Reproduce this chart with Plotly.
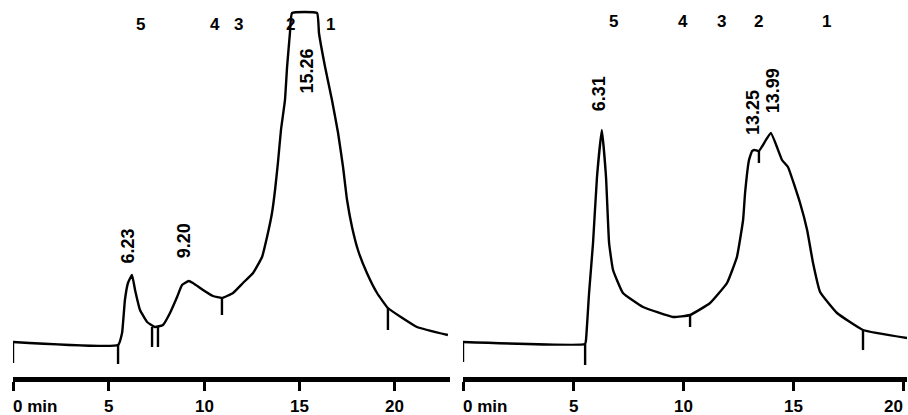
import plotly.graph_objects as go

# ---- Chromatogram A (left) : elution time (min) vs detector response (chart units)
a_time = [0.0, 5.50, 5.71, 5.86, 6.02, 6.23, 6.39, 6.65, 7.02, 7.43, 7.85, 8.22, 8.59,
          8.85, 9.20, 9.42, 9.95, 10.47, 10.94, 11.52, 12.04, 12.57, 13.04, 13.30,
          13.56, 13.72, 13.87, 14.03, 14.24, 14.35, 14.50, 14.61, 15.92, 16.02, 16.34,
          16.70, 17.02, 17.28, 17.49, 17.75, 18.06, 18.53, 19.06, 19.63, 21.15, 22.77]
a_signal = [38, 35, 47, 80, 97, 105, 90, 70, 58, 53, 55, 67, 83,
            95, 99, 97, 90, 84, 82, 87, 97, 107, 123, 143,
            167, 190, 217, 250, 280, 313, 347, 367, 367, 347, 313,
            280, 247, 213, 180, 153, 130, 107, 87, 72, 53, 45]
a_marks_time = [0.0, 5.50, 7.28, 7.59, 10.94, 19.63]
a_marks_top = [38, 35, 53, 53, 82, 72]
a_marks_bottom = [17, 16, 33, 33, 65, 50]
a_peaks = [6.23, 9.20, 15.26]
a_peak_labels = ["6.23", "9.20", "15.26"]
a_std_time = [6.65, 10.58, 11.83, 14.55, 16.6]
a_std_labels = ["5", "4", "3", "2", "1"]

# ---- Chromatogram B (right)
b_time = [0.0, 5.55, 5.59, 5.73, 5.91, 6.09, 6.31, 6.50, 6.64, 6.82, 7.27, 8.18,
          9.55, 10.32, 11.23, 12.00, 12.45, 12.73, 12.82, 13.00, 13.14, 13.25,
          13.45, 13.99, 14.50, 14.77, 15.32, 15.64, 15.91, 16.23, 17.00, 18.18, 20.18]
b_signal = [38, 36, 40, 87, 137, 203, 250, 203, 137, 110, 87, 73,
            63, 65, 77, 97, 123, 160, 187, 220, 229, 230,
            229, 247, 220, 213, 177, 150, 117, 88, 67, 50, 42]
b_marks_time = [0.0, 5.55, 10.32, 13.45, 18.18]
b_marks_top = [38, 36, 65, 229, 50]
b_marks_bottom = [18, 15, 53, 217, 30]
b_peaks = [6.31, 13.25, 13.99]
b_peak_labels = ["6.31", "13.25", "13.99"]
b_std_time = [6.82, 10.0, 11.77, 13.45, 16.5]
b_std_labels = ["5", "4", "3", "2", "1"]

tick_vals = [0, 5, 10, 15, 20]
tick_text = ["0 min", "5", "10", "15", "20"]

INK = "#000000"
FONT = "Liberation Sans, Arial, sans-serif"
W, H = 908, 415
PLOT_H = 377  # height of the plotting area in px (bottom margin holds the time scale)

fig = go.Figure()


def mark_segments(times, tops, bottoms):
    xs, ys = [], []
    for t, hi, lo in zip(times, tops, bottoms):
        xs += [t, t, None]
        ys += [hi, lo, None]
    return xs, ys


panels = [
    ("x", "y", a_time, a_signal, a_marks_time, a_marks_top, a_marks_bottom),
    ("x2", "y2", b_time, b_signal, b_marks_time, b_marks_top, b_marks_bottom),
]
for xa, ya, t, s, mt, mtop, mbot in panels:
    fig.add_trace(go.Scatter(x=t, y=s, mode="lines", xaxis=xa, yaxis=ya,
                             line=dict(color=INK, width=2.4, shape="spline", smoothing=0.35),
                             hoverinfo="skip", showlegend=False, cliponaxis=False))
    mx, my = mark_segments(mt, mtop, mbot)
    fig.add_trace(go.Scatter(x=mx, y=my, mode="lines", xaxis=xa, yaxis=ya,
                             line=dict(color=INK, width=2.4),
                             hoverinfo="skip", showlegend=False, cliponaxis=False))

annotations = []
bold = dict(family=FONT, size=17, color=INK, weight="bold")
bold_lbl = dict(family=FONT, size=18, color=INK, weight="bold")


def paper_y(px):
    return (PLOT_H - px) / PLOT_H


# time-axis labels
for xr in ("x", "x2"):
    for v, txt in zip(tick_vals, tick_text):
        if v == 0:
            anchor, shift = "left", -2
        elif xr == "x2" and v == tick_vals[-1]:
            anchor, shift = "right", 2   # last label sits against the page edge
        else:
            anchor, shift = "center", 0
        annotations.append(dict(x=v, y=paper_y(407), xref=xr, yref="paper",
                                text=txt, showarrow=False, font=bold,
                                xanchor=anchor, yanchor="middle", xshift=shift))

# standard (calibration) markers along the top
for xr, times, labels, py in (("x", a_std_time, a_std_labels, 24),
                              ("x2", b_std_time, b_std_labels, 21)):
    for t, txt in zip(times, labels):
        annotations.append(dict(x=t, y=paper_y(py), xref=xr, yref="paper", text=txt,
                                showarrow=False, font=bold, xanchor="center",
                                yanchor="middle"))


def signal_at(times, signal, t0):
    for i in range(len(times) - 1):
        if times[i] <= t0 <= times[i + 1]:
            f = (t0 - times[i]) / (times[i + 1] - times[i])
            return signal[i] + f * (signal[i + 1] - signal[i])
    return signal[-1]


# retention-time labels, written vertically above each peak
a_gap = [10, 21, None]
a_dx = [-4, -5, 3]
for t, txt, gap, dx in zip(a_peaks, a_peak_labels, a_gap, a_dx):
    if gap is None:
        annotations.append(dict(x=t, y=paper_y(71), xref="x", yref="paper", text=txt,
                                textangle=-90, showarrow=False, font=bold_lbl,
                                xanchor="center", yanchor="middle", xshift=dx))
    else:
        annotations.append(dict(x=t, y=signal_at(a_time, a_signal, t), xref="x", yref="y",
                                text=txt, textangle=-90, showarrow=False, font=bold_lbl,
                                xanchor="center", yanchor="bottom", yshift=gap, xshift=dx))
b_gap = [17, 13, 18]
b_dx = [-3, -2, 2]
for t, txt, gap, dx in zip(b_peaks, b_peak_labels, b_gap, b_dx):
    annotations.append(dict(x=t, y=signal_at(b_time, b_signal, t), xref="x2", yref="y2",
                            text=txt, textangle=-90, showarrow=False, font=bold_lbl,
                            xanchor="center", yanchor="bottom", yshift=gap, xshift=dx))

axis_common = dict(showline=True, linewidth=5, linecolor=INK, ticks="outside",
                   ticklen=9, tickwidth=2.5, tickcolor=INK, tickvals=tick_vals,
                   showticklabels=False, showgrid=False, zeroline=False, fixedrange=True)
fig.update_layout(
    width=W, height=H,
    margin=dict(l=0, r=0, t=0, b=H - PLOT_H),
    paper_bgcolor="white", plot_bgcolor="white",
    xaxis=dict(domain=[13 / W, 450 / W], range=[0, 22.88], anchor="y", **axis_common),
    xaxis2=dict(domain=[463 / W, 907 / W], range=[0, 20.18], anchor="y2", **axis_common),
    yaxis=dict(range=[380 - PLOT_H, 380], visible=False, anchor="x", fixedrange=True),
    yaxis2=dict(range=[380 - PLOT_H, 380], visible=False, anchor="x2", fixedrange=True),
    annotations=annotations,
    showlegend=False,
)

fig.write_html("out.html")
